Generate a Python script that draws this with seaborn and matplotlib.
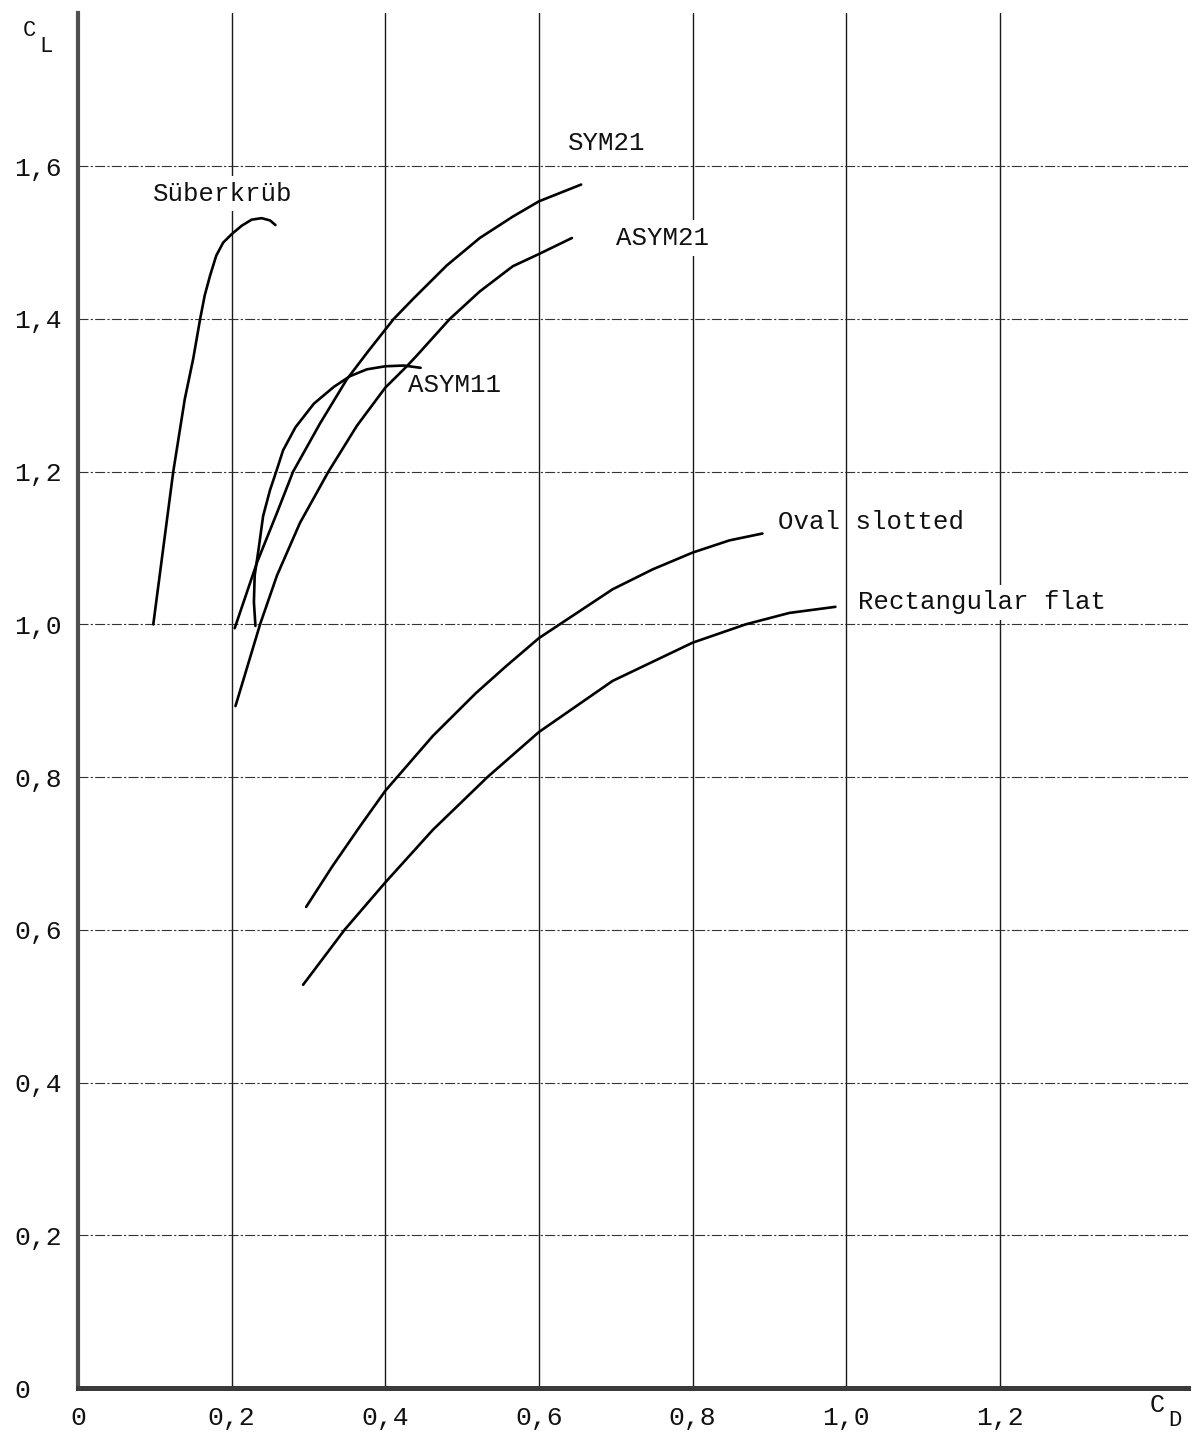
import matplotlib
matplotlib.use("Agg")
import matplotlib.pyplot as plt
import seaborn as sns
import pandas as pd

# ---- data (C_D, C_L) ----
suberkrub_cd = [0.098, 0.111, 0.124, 0.139, 0.150, 0.159, 0.165, 0.172, 0.180, 0.189,
                0.200, 0.213, 0.226, 0.239, 0.250, 0.257]
suberkrub_cl = [1.000, 1.100, 1.200, 1.295, 1.348, 1.400, 1.431, 1.457, 1.483, 1.500,
                1.511, 1.522, 1.530, 1.532, 1.529, 1.523]

sym21_cd = [0.204, 0.233, 0.259, 0.280, 0.315, 0.350, 0.378, 0.411, 0.437, 0.480,
            0.523, 0.566, 0.600, 0.655]
sym21_cl = [0.995, 1.081, 1.146, 1.200, 1.263, 1.321, 1.358, 1.400, 1.427, 1.470,
            1.506, 1.534, 1.554, 1.576]

asym21_cd = [0.205, 0.237, 0.259, 0.289, 0.326, 0.363, 0.400, 0.428, 0.441, 0.484,
             0.523, 0.566, 0.600, 0.643]
asym21_cl = [0.893, 1.000, 1.064, 1.133, 1.200, 1.260, 1.310, 1.338, 1.352, 1.400,
             1.436, 1.469, 1.485, 1.506]

asym11_cd = [0.231, 0.229, 0.230, 0.235, 0.241, 0.250, 0.258, 0.267, 0.283, 0.307,
             0.333, 0.354, 0.376, 0.400, 0.424, 0.446]
asym11_cl = [0.998, 1.029, 1.064, 1.098, 1.142, 1.176, 1.200, 1.228, 1.258, 1.289,
             1.311, 1.325, 1.334, 1.338, 1.339, 1.336]

oval_cd = [0.297, 0.331, 0.366, 0.400, 0.462, 0.518, 0.557, 0.600, 0.627, 0.657,
           0.696, 0.748, 0.800, 0.848, 0.891]
oval_cl = [0.630, 0.683, 0.734, 0.782, 0.854, 0.910, 0.945, 0.982, 1.000, 1.020,
           1.046, 1.072, 1.094, 1.110, 1.119]

rect_cd = [0.293, 0.347, 0.400, 0.462, 0.533, 0.600, 0.696, 0.800, 0.869, 0.926, 0.986]
rect_cl = [0.528, 0.600, 0.662, 0.731, 0.800, 0.859, 0.926, 0.976, 1.000, 1.015, 1.023]

curve_names = ["Süberkrüb", "SYM21", "ASYM21", "ASYM11", "Oval slotted", "Rectangular flat"]

x_ticks = [0, 0.2, 0.4, 0.6, 0.8, 1.0, 1.2]
x_tick_labels = ["0", "0,2", "0,4", "0,6", "0,8", "1,0", "1,2"]
y_ticks = [0, 0.2, 0.4, 0.6, 0.8, 1.0, 1.2, 1.4, 1.6]
y_tick_labels = ["0", "0,2", "0,4", "0,6", "0,8", "1,0", "1,2", "1,4", "1,6"]

# ---- style ----
sns.set_style("white")
plt.rcParams['font.family'] = ['Liberation Mono', 'DejaVu Sans Mono', 'DejaVu Sans']

W, H = 1192, 1445
fig = plt.figure(figsize=(W / 100, H / 100), dpi=100)
ax = fig.add_axes([78 / W, 57 / H, 1110 / W, 1374.5 / H])

curves = [
    (suberkrub_cd, suberkrub_cl),
    (sym21_cd, sym21_cl),
    (asym21_cd, asym21_cl),
    (asym11_cd, asym11_cl),
    (oval_cd, oval_cl),
    (rect_cd, rect_cl),
]
frames = []
for name, (cd, cl) in zip(curve_names, curves):
    frames.append(pd.DataFrame({"CD": cd, "CL": cl, "curve": name}))
df = pd.concat(frames, ignore_index=True)

sns.lineplot(data=df, x="CD", y="CL", units="curve", estimator=None, sort=False,
             color="black", lw=1.9, ax=ax, zorder=4, legend=False)
for ln in ax.lines:
    ln.set_solid_joinstyle("round")
    ln.set_solid_capstyle("round")

ax.set_xlim(0, 1.445)
ax.set_ylim(0, 1.80)
ax.set_xlabel("")
ax.set_ylabel("")

ax.set_xticks(x_ticks)
ax.set_xticklabels(x_tick_labels)
ax.set_yticks(y_ticks)
ax.set_yticklabels(y_tick_labels)

ax.xaxis.grid(True, ls="-", lw=1.0, color="#1a1a1a", zorder=1)
ax.yaxis.grid(True, ls=(0, (9, 2, 2, 2)), lw=0.8, color="#333333", zorder=1)
ax.set_axisbelow(True)

ax.tick_params(axis="x", direction="out", length=7, width=1.0, color="#1a1a1a",
               pad=6, labelsize=19, labelcolor="#111111")
ax.tick_params(axis="y", direction="out", length=6, width=0.8, color="#333333",
               pad=40, labelsize=19, labelcolor="#111111")
for lab in ax.get_yticklabels():
    lab.set_horizontalalignment("left")

for side in ["top", "right"]:
    ax.spines[side].set_visible(False)
ax.spines["left"].set_linewidth(3.0)
ax.spines["left"].set_color("#505050")
ax.spines["bottom"].set_linewidth(3.6)
ax.spines["bottom"].set_color("#3a3a3a")
ax.spines["left"].set_zorder(5)
ax.spines["bottom"].set_zorder(5)

# curve labels
label_pos = {
    "Süberkrüb": (0.098, 1.564, True),
    "SYM21": (0.638, 1.630, False),
    "ASYM21": (0.700, 1.506, True),
    "ASYM11": (0.430, 1.313, False),
    "Oval slotted": (0.911, 1.134, False),
    "Rectangular flat": (1.016, 1.029, True),
}
for name in curve_names:
    x, y, boxed = label_pos[name]
    kw = {}
    if boxed:
        kw["bbox"] = dict(facecolor="white", edgecolor="none", pad=4)
    ax.text(x, y, name, ha="left", va="center", fontsize=18.5, color="#111111",
            zorder=3, **kw)

# axis symbols
fig.text(23 / W, 1 - 31 / H, "C", fontsize=16, va="center", ha="left", color="#111111")
fig.text(39 / W, 1 - 46 / H, "L", fontsize=16, va="center", ha="left", color="#111111")
fig.text(1150 / W, 1 - 1405 / H, "C", fontsize=18, va="center", ha="left", color="#111111")
fig.text(1168 / W, 1 - 1421 / H, "D", fontsize=16, va="center", ha="left", color="#111111")

fig.savefig("out.png", dpi=100)
